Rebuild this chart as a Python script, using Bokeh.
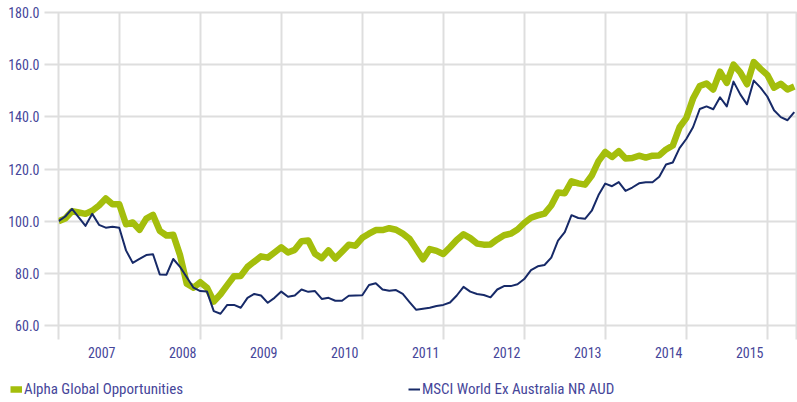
import numpy as np
from bokeh.plotting import figure
from bokeh.layouts import column
from bokeh.models import (FixedTicker, NumeralTickFormatter, Legend, LegendItem,
                          ColumnDataSource, Range1d)
from bokeh.embed import file_html
from bokeh.resources import INLINE

# Monthly index values (start = 100)
alpha = [100.0, 101.0, 103.8, 103.3, 102.8, 104.0, 106.0, 108.7, 106.5, 106.5,
         98.8, 99.5, 96.7, 101.0, 102.4, 96.3, 94.5, 94.8, 87.0, 76.0,
         74.5, 76.6, 74.5, 69.2, 72.0, 75.5, 78.9, 79.0, 82.5, 84.5,
         86.5, 86.0, 88.0, 90.0, 88.0, 89.0, 92.3, 92.6, 87.5, 85.8,
         88.8, 85.7, 88.3, 91.0, 90.6, 93.6, 95.2, 96.6, 96.6, 97.3,
         96.7, 95.2, 93.2, 89.3, 85.4, 89.3, 88.6, 87.4, 90.0, 92.8,
         95.0, 93.5, 91.4, 91.0, 91.1, 93.0, 94.6, 95.2, 96.8, 99.3,
         101.3, 102.2, 102.9, 106.0, 111.0, 110.7, 115.3, 114.5, 114.0, 117.5,
         123.0, 126.5, 124.6, 126.8, 124.0, 124.2, 125.1, 124.4, 125.1, 125.2,
         127.5, 129.0, 136.0, 139.5, 147.0, 151.8, 152.8, 150.5, 157.3, 153.0,
         160.0, 157.0, 152.5, 161.0, 158.4, 156.1, 151.2, 152.7, 150.5, 151.6]

msci = [100.0, 101.8, 104.7, 101.5, 98.2, 102.8, 98.6, 97.5, 97.9, 97.5,
        88.8, 84.0, 85.5, 87.0, 87.3, 79.6, 79.5, 85.5, 82.5, 78.5,
        74.5, 73.2, 73.0, 65.5, 64.5, 67.9, 67.9, 66.8, 70.6, 72.1,
        71.5, 68.7, 70.6, 73.0, 71.0, 71.5, 73.8, 72.9, 73.2, 70.2,
        70.6, 69.5, 69.5, 71.4, 71.5, 71.6, 75.5, 76.2, 73.8, 73.3,
        73.6, 72.1, 69.0, 66.0, 66.4, 66.8, 67.5, 67.9, 68.8, 71.5,
        74.8, 73.0, 72.1, 71.7, 70.8, 73.8, 75.1, 75.1, 75.8, 77.8,
        81.2, 82.7, 83.2, 86.0, 92.5, 95.8, 102.3, 101.2, 100.9, 104.0,
        110.0, 114.4, 113.4, 115.0, 111.6, 112.9, 114.5, 114.9, 114.9, 117.0,
        121.7, 122.5, 128.0, 131.5, 136.0, 143.0, 144.0, 142.9, 147.5, 144.0,
        153.5, 148.6, 144.8, 153.9, 151.2, 147.8, 142.5, 139.9, 138.7, 141.8]

years = ["2007", "2008", "2009", "2010", "2011", "2012", "2013", "2014", "2015"]
year_end_index = [9, 21, 33, 45, 57, 69, 81, 93, 105]   # month index where the next year starts
y_ticks = [60, 80, 100, 120, 140, 160, 180]

series_names = ["Alpha Global Opportunities", "MSCI World Ex Australia NR AUD"]

FONT = "'Liberation Sans Narrow', 'Arial Narrow', 'Roboto Condensed', 'DejaVu Sans Condensed', sans-serif"
TXT = "#46469a"
GRID = "#dedede"
GREEN = "#a4be0c"
NAVY = "#172a68"
GREEN_W = 6.5
NAVY_W = 2

n = len(alpha)
x = list(range(n))
x_end = n - 1 + 0.33
src = ColumnDataSource(dict(x=x, alpha=alpha, msci=msci))

p = figure(width=797, height=360, output_backend="svg", toolbar_location=None,
           x_range=Range1d(0, x_end), y_range=Range1d(60, 180),
           min_border_left=58, min_border_right=1, min_border_top=12,
           min_border_bottom=31)
p.frame_align = False
p.outline_line_color = GRID
p.outline_line_width = 2
p.background_fill_color = "white"
p.border_fill_color = "white"

# grids
p.xgrid.ticker = FixedTicker(ticks=[0] + year_end_index + [x_end])
p.xgrid.grid_line_color = GRID
p.xgrid.grid_line_width = 2
p.ygrid.ticker = FixedTicker(ticks=y_ticks)
p.ygrid.grid_line_color = GRID
p.ygrid.grid_line_width = 2

# x axis: labels sit just left of each year boundary
label_pos = [b - 2.6 for b in year_end_index]
xa = p.xaxis[0]
xa.ticker = FixedTicker(ticks=label_pos, minor_ticks=[0] + year_end_index + [x_end])
xa.major_label_overrides = {lp: yr for lp, yr in zip(label_pos, years)}
xa.axis_line_color = None
xa.major_tick_line_color = None
xa.major_tick_out = 0
xa.major_tick_in = 0
xa.minor_tick_line_color = GRID
xa.minor_tick_line_width = 2
xa.minor_tick_out = 14
xa.minor_tick_in = 0
xa.major_label_standoff = 7
xa.major_label_text_font = FONT
xa.major_label_text_font_size = "14px"
xa.major_label_text_color = TXT

ya = p.yaxis[0]
ya.ticker = FixedTicker(ticks=y_ticks)
ya.formatter = NumeralTickFormatter(format="0.0")
ya.axis_line_color = None
ya.major_tick_line_color = GRID
ya.major_tick_line_width = 2
ya.major_tick_out = 14
ya.major_tick_in = 0
ya.minor_tick_line_color = None
ya.major_label_standoff = 5
ya.major_label_text_font = FONT
ya.major_label_text_font_size = "14px"
ya.major_label_text_color = TXT

p.line("x", "alpha", source=src, line_color=GREEN, line_width=GREEN_W, line_join="round")
p.line("x", "msci", source=src, line_color=NAVY, line_width=NAVY_W, line_join="round")

# legend strip below the chart (its own frame spans the full width)
lg = figure(width=797, height=42, output_backend="svg", toolbar_location=None,
            x_range=Range1d(0, 1), y_range=Range1d(0, 1),
            x_axis_type=None, y_axis_type=None,
            min_border_left=0, min_border_right=0, min_border_top=0, min_border_bottom=0)
lg.frame_align = False
lg.outline_line_color = None
lg.xgrid.visible = False
lg.ygrid.visible = False
# off-range stand-ins that only supply the legend swatches
k1 = lg.line(x=[-5, -4], y=[-5, -4], line_color=GREEN, line_width=GREEN_W)
k2 = lg.line(x=[-5, -4], y=[-5, -4], line_color=NAVY, line_width=NAVY_W)

legend = Legend(items=[LegendItem(label=series_names[0], renderers=[k1]),
                       LegendItem(label=series_names[1], renderers=[k2])],
                location=(10, 3), orientation="horizontal",
                glyph_width=12, glyph_height=20, label_standoff=2,
                label_width=200, spacing=184, padding=0, margin=0,
                border_line_color=None, background_fill_alpha=0,
                label_text_font=FONT, label_text_font_size="15px",
                label_text_color=TXT)
lg.add_layout(legend, "center")

layout = column(p, lg, spacing=0)
open("out.html", "w").write(file_html(layout, INLINE))
